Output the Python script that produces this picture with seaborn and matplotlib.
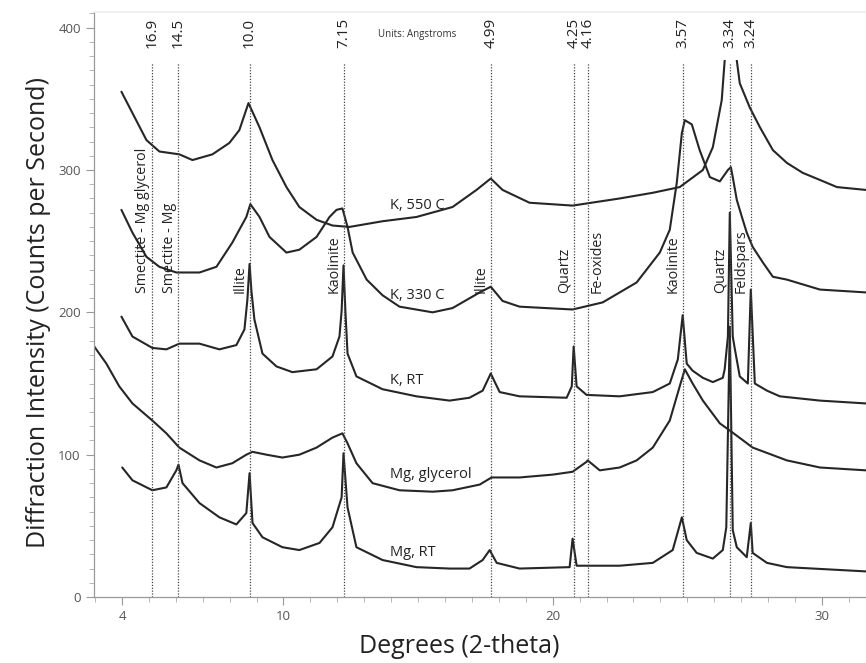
import numpy as np
import pandas as pd
import matplotlib
matplotlib.use("Agg")
import matplotlib.pyplot as plt
import matplotlib.ticker as mticker
from matplotlib.patches import Rectangle
import seaborn as sns

# ===== DATA =====
# K, 550 C
k550_x = [3.98, 4.39, 4.91, 5.39, 6.13, 6.62, 7.36, 7.99, 8.36, 8.70, 9.11, 9.59, 10.11,
          10.59, 11.23, 11.82, 12.45, 13.68, 14.94, 16.28, 17.17, 17.70, 18.14, 19.14,
          20.74, 22.49, 23.72, 24.72, 25.58, 25.95, 26.28, 26.39, 26.60, 26.84, 26.95,
          27.32, 27.70, 28.18, 28.70, 29.29, 29.93, 30.56, 31.64]
k550_y = [355, 340, 321, 313, 311, 307, 311, 319, 328, 347, 330, 307, 288,
          274, 265, 261, 260, 264, 267, 274, 286, 294, 286, 277,
          275, 280, 284, 288, 300, 316, 349, 377, 430, 377, 361,
          344, 330, 314, 305, 298, 293, 288, 286]

# K, 330 C
k330_x = [3.98, 4.39, 4.91, 5.39, 6.02, 6.88, 7.51, 8.10, 8.62, 8.77, 9.11, 9.48, 10.11,
          10.59, 11.23, 11.71, 11.97, 12.19, 12.38, 12.57, 13.09, 13.68, 14.31, 15.54,
          16.28, 17.29, 17.70, 18.14, 18.77, 20.74, 21.86, 23.12, 23.98, 24.35, 24.61,
          24.80, 24.91, 25.17, 25.46, 25.84, 26.21, 26.51, 26.62, 26.69, 26.84, 27.03,
          27.21, 27.43, 27.81, 28.18, 28.70, 29.93, 31.64]
k330_y = [272, 256, 239, 232, 228, 228, 232, 249, 267, 276, 267, 253, 242,
          244, 253, 267, 272, 273, 260, 242, 223, 212, 204, 200,
          203, 214, 218, 208, 204, 202, 207, 221, 242, 258, 291,
          326, 335, 332, 314, 295, 292, 300, 302, 295, 279, 267,
          256, 246, 235, 225, 223, 216, 214]

# K, RT
krt_x = [3.98, 4.39, 5.13, 5.65, 6.13, 6.88, 7.62, 8.25, 8.55, 8.66, 8.74, 8.81, 8.92,
         9.22, 9.74, 10.33, 11.23, 11.82, 12.08, 12.16, 12.23, 12.30, 12.38, 12.71,
         13.68, 14.94, 16.17, 16.91, 17.40, 17.70, 18.03, 18.77, 20.52, 20.71, 20.78,
         20.89, 21.26, 22.49, 23.72, 24.35, 24.65, 24.83, 24.98, 25.20, 25.58, 25.95,
         26.32, 26.39, 26.51, 26.58, 26.69, 26.77, 26.95, 27.25, 27.36, 27.51, 27.96,
         28.44, 29.93, 31.64]
krt_y = [197, 183, 175, 174, 178, 178, 174, 177, 188, 209, 234, 215, 195,
         171, 162, 158, 160, 169, 183, 201, 233, 201, 171, 155,
         146, 141, 138, 140, 145, 157, 144, 141, 140, 148, 176,
         148, 142, 141, 144, 150, 167, 198, 164, 159, 154, 151,
         154, 160, 183, 270, 183, 174, 155, 150, 216, 150, 145,
         141, 138, 136]

# Mg, glycerol
mggly_x = [2.97, 3.42, 3.90, 4.39, 5.13, 5.65, 6.13, 6.88, 7.51, 8.10, 8.62, 8.85, 9.37,
           9.96, 10.59, 11.23, 11.82, 12.19, 12.38, 12.71, 13.31, 14.31, 15.54, 16.28,
           17.29, 17.73, 18.77, 20.00, 20.74, 21.26, 21.30, 21.75, 22.49, 23.12, 23.72,
           24.35, 24.72, 24.91, 25.20, 25.58, 26.21, 26.58, 27.43, 28.70, 29.93, 31.64]
mggly_y = [176, 164, 148, 136, 124, 115, 105, 96, 91, 94, 100, 102, 100,
           98, 100, 105, 112, 115, 108, 94, 80, 75, 74, 75,
           79, 84, 84, 86, 88, 95, 96, 89, 91, 96, 105,
           124, 148, 160, 150, 138, 122, 117, 105, 96, 91, 89]

# Mg, RT
mgrt_x = [4.01, 4.39, 5.13, 5.65, 6.02, 6.10, 6.25, 6.88, 7.62, 8.25, 8.62, 8.74, 8.85,
          9.22, 9.96, 10.59, 11.34, 11.82, 12.16, 12.23, 12.38, 12.71, 13.68, 14.94,
          16.17, 16.91, 17.40, 17.66, 17.92, 18.77, 20.63, 20.74, 20.89, 22.49, 23.72,
          24.46, 24.80, 24.98, 25.35, 25.95, 26.32, 26.45, 26.58, 26.69, 26.84, 27.21,
          27.36, 27.43, 27.96, 28.70, 31.64]
mgrt_y = [91, 82, 75, 77, 89, 93, 80, 66, 56, 51, 59, 87, 52,
          42, 35, 33, 38, 49, 70, 101, 63, 35, 26, 21,
          20, 20, 26, 33, 24, 20, 21, 41, 22, 22, 24,
          33, 56, 40, 31, 27, 33, 49, 190, 47, 35, 28,
          52, 31, 24, 21, 18]

trace_names = ["K, 550 C", "K, 330 C", "K, RT", "Mg, glycerol", "Mg, RT"]
trace_label_y = [275, 212, 152, 86, 31]

# duong tham chieu (2-theta) + d-spacing
ref_pos = [5.13, 6.10, 8.74, 12.23, 17.70, 20.78, 21.30, 24.83, 26.58, 27.36]
ref_d = ["16.9", "14.5", "10.0", "7.15", "4.99", "4.25", "4.16", "3.57", "3.34", "3.24"]

# ten khoang vat: (chi so duong, chu, phia)
mineral_line = [0, 1, 2, 3, 4, 5, 6, 7, 8, 9]
mineral_text = ["Smectite - Mg glycerol", "Smectite - Mg", "Illite", "Kaolinite", "Illite",
                "Quartz", "Fe-oxides", "Kaolinite", "Quartz", "Feldspars"]
mineral_side = ["right", "right", "right", "right", "right",
                "right", "left", "right", "right", "right"]

# ===== VE =====
sns.set_theme(style="white")
plt.rcParams["font.family"] = ["Open Sans", "DejaVu Sans"]

fig = plt.figure(figsize=(8.66, 6.63), dpi=100)
ax = fig.add_axes([0.1085, 0.0995, 0.8915, 0.8824])

series = [(k550_x, k550_y), (k330_x, k330_y), (krt_x, krt_y),
          (mggly_x, mggly_y), (mgrt_x, mgrt_y)]
line_col = "#262626"
for name, (xs, ys) in zip(trace_names, series):
    df = pd.DataFrame({"theta": xs, "cps": ys})
    n_before = len(ax.lines)
    sns.lineplot(data=df, x="theta", y="cps", ax=ax, sort=False, estimator=None,
                 color=line_col, linewidth=1.5)
    if name == "K, 550 C":
        # dinh peak bi cat ngay duoi dai nhan
        clip = Rectangle((0, -10), 40, 387, transform=ax.transData)
        for ln in ax.lines[n_before:]:
            ln.set_clip_path(clip)

for xp in ref_pos:
    ax.plot([xp, xp], [0, 375], linestyle=(0, (1, 1.3)), color="#444444", linewidth=0.9)

for xp, lab in zip(ref_pos, ref_d):
    ax.text(xp, 386, lab, rotation=90, ha="center", va="bottom", fontsize=11, color="#222222")

ax.text(13.5, 395, "Units: Angstroms", fontsize=7, color="#333333", va="center")

for idx, txt, side in zip(mineral_line, mineral_text, mineral_side):
    xp = ref_pos[idx]
    off = -0.07 if side == "right" else 0.07
    ax.text(xp + off, 213.5, txt, rotation=90, ha=side, va="bottom", fontsize=10.3,
            color="#222222")

for name, ly in zip(trace_names, trace_label_y):
    ax.text(13.95, ly, name, fontsize=10.5, color="#222222", va="center", ha="left")

ax.set_xlim(2.96, 31.64)
ax.set_ylim(0, 411)
ax.xaxis.set_major_locator(mticker.FixedLocator([4, 10, 20, 30]))
ax.xaxis.set_minor_locator(mticker.MultipleLocator(1))
ax.yaxis.set_major_locator(mticker.MultipleLocator(100))
ax.yaxis.set_minor_locator(mticker.MultipleLocator(10))
ax.tick_params(axis="both", which="major", direction="out", length=6, width=0.8,
               color="#999999", labelcolor="#555555", labelsize=9.5, bottom=True, left=True)
ax.tick_params(axis="both", which="minor", direction="out", length=3.5, width=0.6,
               color="#aaaaaa", bottom=True, left=True)

for side in ["left", "bottom"]:
    ax.spines[side].set_color("#999999")
    ax.spines[side].set_linewidth(0.9)
ax.spines["right"].set_visible(False)
ax.spines["top"].set_color("#eeeeee")

ax.set_xlabel("Degrees (2-theta)", fontsize=18, color="#222222")
ax.set_ylabel("Diffraction Intensity (Counts per Second)", fontsize=18, color="#222222")
ax.xaxis.set_label_coords(0.473, -0.063)
ax.yaxis.set_label_coords(-0.056, 0.487)

plt.savefig("out.png", dpi=100)
plt.close()
